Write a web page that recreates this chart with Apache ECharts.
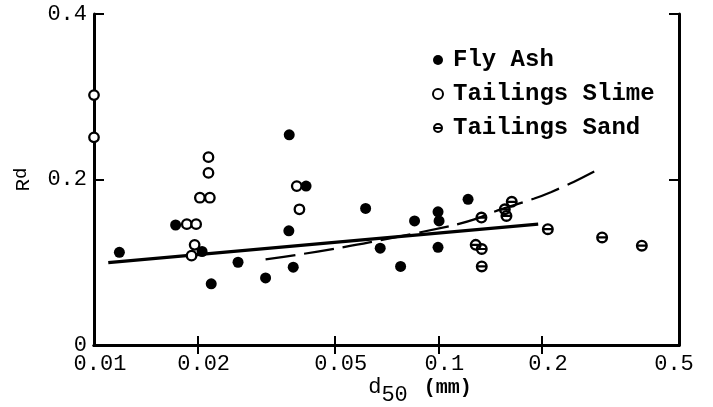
<!DOCTYPE html>
<html><head><meta charset="utf-8">
<script src="https://cdn.jsdelivr.net/npm/echarts@6/dist/echarts.min.js"></script>
<style>html,body{margin:0;padding:0;background:#fff}#c{width:713px;height:407px}</style>
</head><body><div id="c"></div>
<script>
// ---- data ----
const flyAshD = [0.01185, 0.01726, 0.0206, 0.0219, 0.0262, 0.0315, 0.0368, 0.0379, 0.0369, 0.0413, 0.0615, 0.0678, 0.0777, 0.0853, 0.0998, 0.1005, 0.0998, 0.122];
const flyAshR = [0.112, 0.145, 0.113, 0.074, 0.100, 0.081, 0.138, 0.094, 0.254, 0.192, 0.165, 0.117, 0.095, 0.150, 0.161, 0.150, 0.118, 0.176];
const slimeD = [0.01, 0.01, 0.0215, 0.0215, 0.0203, 0.0217, 0.0186, 0.0198, 0.0196, 0.0192, 0.0388, 0.0395];
const slimeR = [0.302, 0.251, 0.227, 0.208, 0.178, 0.178, 0.146, 0.146, 0.121, 0.108, 0.192, 0.164];
const sandD = [0.1334, 0.1284, 0.1337, 0.1337, 0.156, 0.1577, 0.1634, 0.208, 0.299, 0.390];
const sandR = [0.154, 0.121, 0.116, 0.095, 0.164, 0.156, 0.173, 0.140, 0.130, 0.120];
const fitD = [0.011, 0.195];
const fitR = [0.0995, 0.146];
const dashD = [0.0315, 0.039, 0.051, 0.063, 0.109, 0.13, 0.145, 0.19, 0.213, 0.247, 0.297];
const dashR = [0.1035, 0.109, 0.117, 0.124, 0.144, 0.153, 0.161, 0.177, 0.185, 0.197, 0.214];
const xTickValues = [0.01, 0.02, 0.05, 0.1, 0.2, 0.5];
const xTickLabels = ['0.01', '0.02', '0.05', '0.1', '0.2', '0.5'];
const xMinorTicks = [0.02, 0.05, 0.1, 0.2];
const yTickValues = [0, 0.2, 0.4];
const yTickLabels = ['0', '0.2', '0.4'];
const seriesNames = ['Fly Ash', 'Tailings Slime', 'Tailings Sand'];

const zip = (a, b) => a.map((v, i) => [v, b[i]]);
const FONT = 'Liberation Mono';
const sandSymbol = 'path://M0,-6 A6,6 0 1,1 0,6 A6,6 0 1,1 0,-6 Z M0,-3.6 A3.6,3.6 0 1,0 0,3.6 A3.6,3.6 0 1,0 0,-3.6 Z M-5,-1.1 L5,-1.1 L5,1.1 L-5,1.1 Z';

function xFmt(v) {
  let best = 0, bd = Infinity;
  xTickValues.forEach((t, i) => { const d = Math.abs(Math.log10(t) - Math.log10(v)); if (d < bd) { bd = d; best = i; } });
  return (best === xTickValues.length - 1 ? '{e|' : '{n|') + xTickLabels[best] + '}';
}
function yFmt(v) {
  let best = 0, bd = Infinity;
  yTickValues.forEach((t, i) => { const d = Math.abs(t - v); if (d < bd) { bd = d; best = i; } });
  return yTickLabels[best];
}
const axisLine = { show: true, lineStyle: { color: '#000', width: 3 } };
const tickStyle = { color: '#000', width: 2 };
const lblFont = { fontFamily: FONT, fontSize: 22, color: '#000' };

const chart = echarts.init(document.getElementById('c'), null, { renderer: 'canvas' });
chart.setOption({
  animation: false,
  backgroundColor: '#fff',
  grid: { left: 94, right: 34, top: 14, bottom: 62, show: false, containLabel: false, outerBoundsMode: 'none' },
  legend: {
    data: seriesNames,
    orient: 'vertical', left: 427, top: 43,
    itemWidth: 20, itemHeight: 10, itemGap: 10,
    textStyle: { fontFamily: FONT, fontSize: 24, fontWeight: 'bold', color: '#000', lineHeight: 24 }
  },
  xAxis: [
    {
      type: 'log', logBase: 10, min: 0.01, max: 0.5, position: 'bottom',
      axisLine,
      axisTick: { show: true, inside: true, length: 9, lineStyle: tickStyle, customValues: xMinorTicks },
      axisLabel: {
        show: true, customValues: xTickValues, formatter: xFmt, margin: 8, ...lblFont,
        rich: {
          n: { ...lblFont, padding: [0, 0, 0, 12] },
          e: { ...lblFont, padding: [0, 10, 0, 0] }
        }
      },
      splitLine: { show: false }, minorTick: { show: false },
      name: '{d|d}{s|50}{m|(mm)}',
      nameLocation: 'middle', nameGap: 24, nameMoveOverlap: false,
      nameTextStyle: {
        padding: [0, 0, 0, 67],
        rich: {
          d: { fontFamily: FONT, fontSize: 22, color: '#000' },
          s: { fontFamily: FONT, fontSize: 22, color: '#000', padding: [15, 0, 0, 0] },
          m: { fontFamily: FONT, fontSize: 20, fontWeight: 'bold', color: '#000', padding: [0, 0, 0, 16] }
        }
      }
    },
    {
      type: 'log', logBase: 10, min: 0.01, max: 0.5, position: 'top',
      axisLine,
      axisTick: { show: true, inside: true, length: 9, lineStyle: tickStyle, customValues: xMinorTicks },
      axisLabel: { show: false }, splitLine: { show: false }
    }
  ],
  yAxis: [
    {
      type: 'value', min: 0, max: 0.4, interval: 0.2, position: 'left',
      axisLine,
      axisTick: { show: true, inside: true, length: 10, lineStyle: tickStyle },
      axisLabel: { formatter: yFmt, margin: 7, ...lblFont },
      splitLine: { show: false },
      name: '{r|R}{s|d}', nameLocation: 'middle', nameGap: 60, nameMoveOverlap: false,
      nameTextStyle: { rich: {
        r: { fontFamily: FONT, fontSize: 21, color: '#000', padding: [6, 0, 0, 0] },
        s: { fontFamily: FONT, fontSize: 19, color: '#000' } } }
    },
    {
      type: 'value', min: 0, max: 0.4, interval: 0.2, position: 'right',
      axisLine,
      axisTick: { show: true, inside: true, length: 10, lineStyle: tickStyle },
      axisLabel: { show: false }, splitLine: { show: false }
    }
  ],
  series: [
    {
      name: 'fit', type: 'line', data: zip(fitD, fitR), showSymbol: false, symbol: 'none',
      lineStyle: { color: '#000', width: 3.2 }, z: 2, silent: true
    },
    {
      name: 'trend', type: 'line', data: zip(dashD, dashR), showSymbol: false, symbol: 'none', smooth: 0.3,
      lineStyle: { color: '#000', width: 2.2, type: [30, 9] }, z: 2, silent: true
    },
    {
      name: seriesNames[0], type: 'scatter', data: zip(flyAshD, flyAshR), symbol: 'circle', symbolSize: 11, clip: false,
      itemStyle: { color: '#000', opacity: 1 }, z: 3
    },
    {
      name: seriesNames[1], type: 'scatter', data: zip(slimeD, slimeR), symbol: 'circle', symbolSize: 9.5, clip: false,
      itemStyle: { color: '#fff', borderColor: '#000', borderWidth: 2.3, opacity: 1 }, z: 4
    },
    {
      name: seriesNames[2], type: 'scatter', data: zip(sandD, sandR), symbol: sandSymbol, symbolSize: 12, clip: false,
      itemStyle: { color: '#000', opacity: 1 }, z: 4
    }
  ]
});
</script></body></html>
